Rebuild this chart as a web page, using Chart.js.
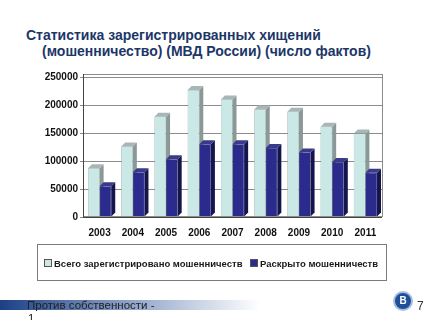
<!DOCTYPE html>
<html>
<head>
<meta charset="utf-8">
<script src="https://cdn.jsdelivr.net/npm/chart.js@4"></script>
<style>
  body { margin: 0; background: #fff; font-family: "Liberation Sans", Arial, sans-serif; }
  #wrap { position: relative; width: 427px; height: 320px; overflow: hidden; }
  #chart { position: absolute; left: 0; top: 0; }
  .title { position: absolute; color: #1c3668; font-weight: bold; font-size: 14px; white-space: nowrap; }
  #legend { position: absolute; left: 37px; top: 244px; width: 350px; height: 37px; border: 1px solid #7a7a7a; box-sizing: border-box; }
  .lg { position: absolute; top: 13px; font-size: 9.5px; font-weight: bold; color: #1a1a1a; white-space: nowrap; }
  .sq { display: inline-block; width: 6px; height: 6px; border: 1px solid #555; margin-right: 2px; vertical-align: 0px; }
  #footbar { position: absolute; left: 0; top: 300px; width: 260px; height: 10px; background: linear-gradient(to right, #1c3f86, #8fa4c8 50%, #ffffff); }
  #foot { position: absolute; left: 27px; top: 299px; font-size: 11.5px; color: #222; white-space: nowrap; }
  #foot2 { position: absolute; left: 28px; top: 312px; font-size: 11.5px; color: #222; }
  #page { position: absolute; left: 417px; top: 299px; font-size: 12px; color: #333; }
  #logo { position: absolute; left: 393px; top: 291px; width: 20px; height: 20px; border-radius: 50%; background: #1d4f9a; border: 2px solid #a9bedc; box-sizing: border-box; color: #fff; font-size: 10px; font-weight: bold; text-align: center; line-height: 16px; }
</style>
</head>
<body>
<div id="wrap">
  <div class="title" style="left:26px; top:27px;">Статистика зарегистрированных хищений</div>
  <div class="title" style="left:42px; top:43px;">(мошенничество) (МВД России) (число фактов)</div>
  <canvas id="chart" width="427" height="320"></canvas>
  <div id="legend">
    <div class="lg" style="left:6px;"><span class="sq" style="background:#c9e8e6"></span>Всего зарегистрировано мошенничеств</div>
    <div class="lg" style="left:212px;"><span class="sq" style="background:#2b2b8e"></span>Раскрыто мошенничеств</div>
  </div>
  <div id="footbar"></div>
  <div id="foot">Против собственности -</div>
  <div id="foot2">1</div>
  <div id="logo">В</div>
  <div id="page">7</div>
</div>
<script>
const years = ['2003', '2004', '2005', '2006', '2007', '2008', '2009', '2010', '2011'];
const registered = [87000, 126000, 179000, 227000, 210000, 192000, 188000, 161000, 149000];
const solved = [55000, 80000, 103000, 130000, 130000, 123000, 115000, 98000, 79000];
const yTicks = [0, 50000, 100000, 150000, 200000, 250000];

const seriesNames = ['Всего зарегистрировано мошенничеств', 'Раскрыто мошенничеств'];

// pseudo 3D: side and top faces drawn from the bar elements, before the bars themselves
const depth = 4;
const sideColors = [['#8a9898', '#a9b6b6'], ['#15154e', '#3a3a8a']];

const box3d = {
    id: 'box3d',
    beforeDatasetsDraw(chart) {
        const ctx = chart.ctx;
        chart.data.datasets.forEach((ds, i) => {
            const cols = sideColors[i];
            chart.getDatasetMeta(i).data.forEach(bar => {
                const l = bar.x - bar.width / 2;
                const r = bar.x + bar.width / 2;
                const t = bar.y;
                const b = bar.base;
                ctx.save();
                ctx.fillStyle = cols[0];
                ctx.beginPath();
                ctx.moveTo(r, b);
                ctx.lineTo(r + depth, b - depth);
                ctx.lineTo(r + depth, t - depth);
                ctx.lineTo(r, t);
                ctx.closePath();
                ctx.fill();
                ctx.fillStyle = cols[1];
                ctx.beginPath();
                ctx.moveTo(l, t);
                ctx.lineTo(l + depth, t - depth);
                ctx.lineTo(r + depth, t - depth);
                ctx.lineTo(r, t);
                ctx.closePath();
                ctx.fill();
                ctx.restore();
            });
        });
    },
    afterDraw(chart) {
        const ctx = chart.ctx;
        const a = chart.chartArea;
        ctx.save();
        ctx.strokeStyle = '#8c8c8c';
        ctx.lineWidth = 1;
        ctx.strokeRect(a.left + 0.5, a.top - 2.5, a.right - a.left, a.bottom - a.top + 2);
        ctx.strokeStyle = '#444';
        ctx.beginPath();
        ctx.moveTo(a.left + 0.5, a.top - 3);
        ctx.lineTo(a.left + 0.5, a.bottom + 0.5);
        ctx.lineTo(a.right, a.bottom + 0.5);
        ctx.stroke();
        ctx.restore();
    }
};

new Chart(document.getElementById('chart'), {
    type: 'bar',
    data: {
        labels: years,
        datasets: [
            { label: seriesNames[0], data: registered, backgroundColor: '#c9e8e6', borderColor: '#6f8282', borderWidth: 0.5 },
            { label: seriesNames[1], data: solved, backgroundColor: '#2b2b8e', borderColor: '#16164f', borderWidth: 0.5 }
        ]
    },
    options: {
        responsive: false,
        animation: false,
        layout: { padding: { left: 30, right: 45, top: 77, bottom: 83 } },
        datasets: { bar: { categoryPercentage: 0.7, barPercentage: 1.0 } },
        plugins: { legend: { display: false }, tooltip: { enabled: false } },
        scales: {
            x: {
                grid: { display: false },
                border: { display: false },
                ticks: { color: '#111', font: { family: 'Liberation Sans', size: 10, weight: 'bold' }, padding: 2 },
                afterFit: s => { s.height = 20; }
            },
            y: {
                min: 0,
                max: 250000,
                afterBuildTicks: s => { s.ticks = yTicks.map(v => ({ value: v })); },
                grid: { color: '#8c8c8c', lineWidth: 1, tickLength: 3 },
                border: { display: false },
                ticks: { color: '#111', font: { family: 'Liberation Sans', size: 10, weight: 'bold' }, padding: 2, callback: v => String(v) },
                afterFit: s => { s.width = 53; }
            }
        }
    },
    plugins: [box3d]
});
</script>
</body>
</html>
